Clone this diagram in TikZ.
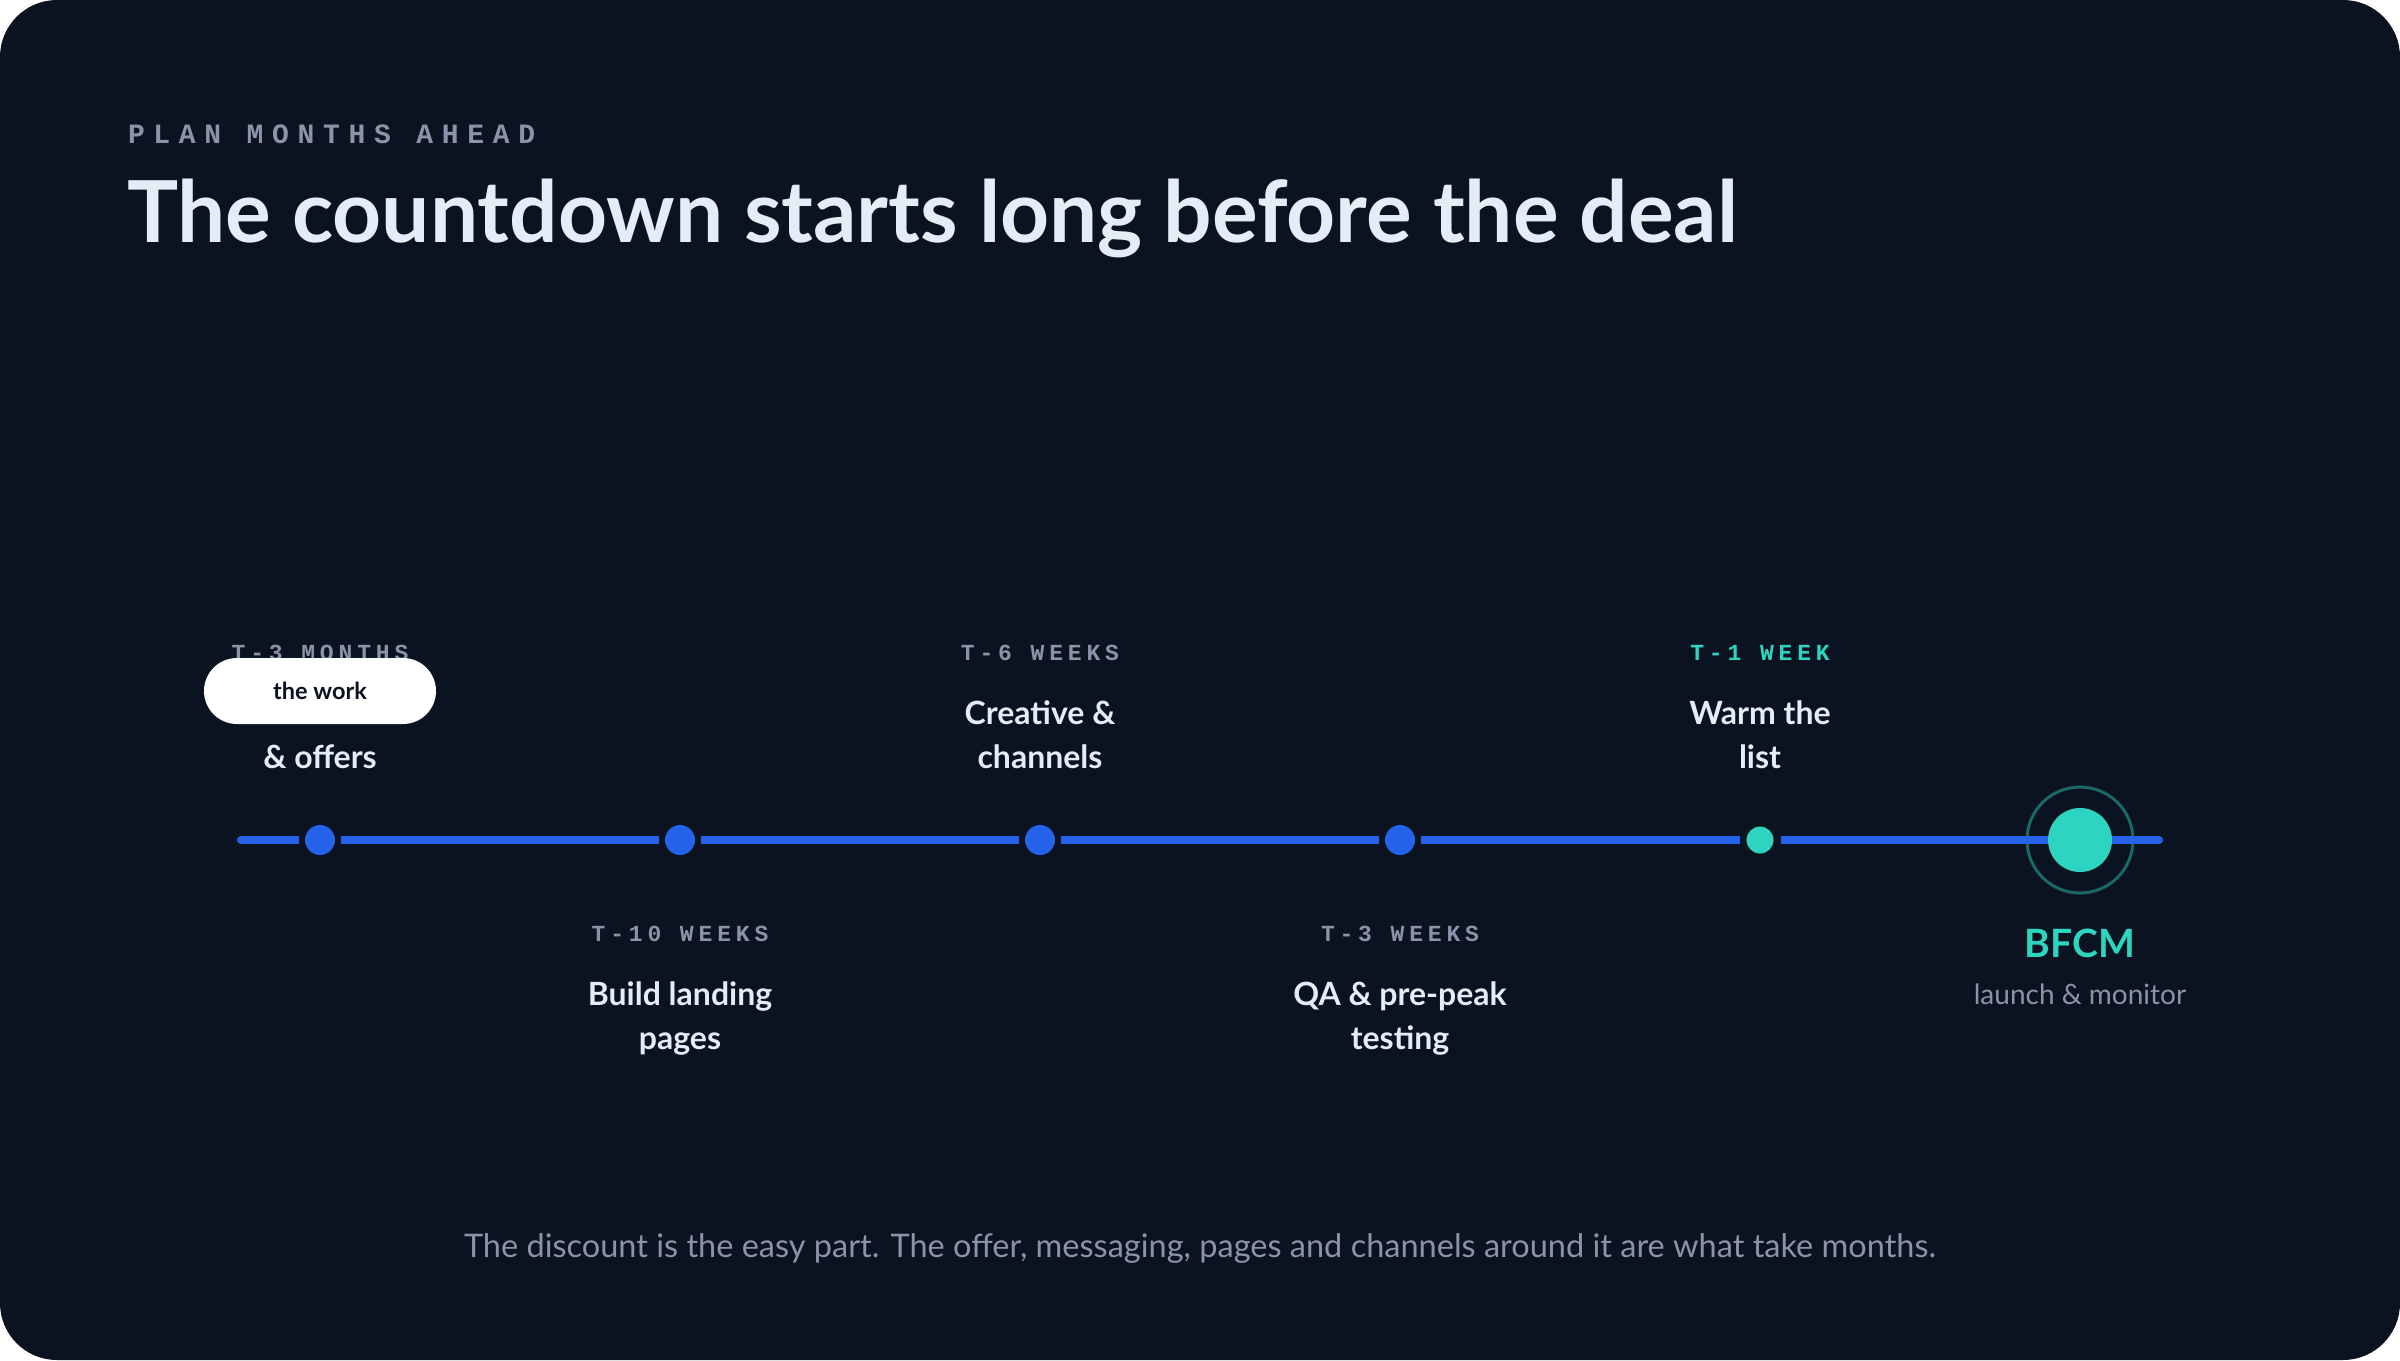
\documentclass[tikz,border=0pt]{standalone}
\usepackage{fontspec}
\usetikzlibrary{arrows.meta}
\setmainfont{Lato}
\newfontfamily\eyefont[LetterSpace=31]{Liberation Mono}
\newfontfamily\labfont[LetterSpace=21]{Liberation Mono}
\definecolor{bgc}{HTML}{0B1220}
\definecolor{tblue}{HTML}{2563EB}
\definecolor{tteal}{HTML}{2DD4BF}
\definecolor{greyl}{HTML}{8A94A8}
\definecolor{lighttxt}{HTML}{E6ECF5}
\tikzset{
  txt/.style={anchor=base, inner sep=0pt, outer sep=0pt},
  lbl/.style={txt, font=\labfont\bfseries\fontsize{23}{23}\selectfont, text=greyl},
  ttl/.style={txt, font=\bfseries\fontsize{32}{44}\selectfont, text=lighttxt, align=center},
  dotb/.style={circle, fill=tblue, inner sep=0pt, minimum size=30pt, outer sep=6pt},
  dott/.style={circle, fill=tteal, inner sep=0pt, minimum size=27pt, outer sep=7pt},
  tl/.style={draw=tblue, line width=8pt}
}
\begin{document}
\begin{tikzpicture}[x=1pt,y=-1pt]
\useasboundingbox (0,0) rectangle (2400,1360);
\fill[white] (0,0) rectangle (2400,1360);
\fill[bgc, rounded corners=57pt] (0,0) rectangle (2400,1360);

% heading
\node[txt, font=\eyefont\bfseries\fontsize{28}{28}\selectfont, text=greyl, anchor=base west] (eyebrow) at (128,143) {PLAN MONTHS AHEAD};
\node[txt, anchor=base west, font=\bfseries\fontsize{85.5}{86}\selectfont, text=lighttxt] (title) at (127,242) {The countdown starts long before the deal};

% timeline nodes
\coordinate (L) at (237,840);
\coordinate (R) at (2163,840);
\node[dotb] (d1) at (320,840) {};
\node[dotb] (d2) at (680,840) {};
\node[dotb] (d3) at (1040,840) {};
\node[dotb] (d4) at (1400,840) {};
\node[dott] (d5) at (1760,840) {};
\node[circle, fill=tteal, inner sep=0pt, minimum size=64pt] (d6) at (2080,840) {};
\node[circle, draw=tteal, draw opacity=0.45, line width=3pt, inner sep=0pt, minimum size=106pt] (ring) at (2080,840) {};

\draw[tl, {Round Cap[]}-] (L) -- (d1);
\draw[tl] (d1) -- (d2);
\draw[tl] (d2) -- (d3);
\draw[tl] (d3) -- (d4);
\draw[tl] (d4) -- (d5);
\draw[tl] (d5) -- (d6);
\draw[tl, -{Round Cap[]}] (d6) -- (R);

% labels above
\node[lbl] (l1) at (320,660) {T-3 MONTHS};
\node[ttl] (t1b) at (320,768) {\& offers};
\node[lbl] (l3) at (1040,660) {T-6 WEEKS};
\node[ttl] (t3) at (1040,768) {Creative \&\\channels};
\node[lbl, text=tteal] (l5) at (1760,660) {T-1 WEEK};
\node[ttl] (t5) at (1760,768) {Warm the\\list};

% labels below
\node[lbl] (l2) at (680,941) {T-10 WEEKS};
\node[ttl] (t2) at (680,1049) {Build landing\\pages};
\node[lbl] (l4) at (1400,941) {T-3 WEEKS};
\node[ttl] (t4) at (1400,1049) {QA \& pre-peak\\testing};

% BFCM
\node[txt, font=\bfseries\fontsize{39}{39}\selectfont, text=tteal] (bfcm) at (2080,957) {BFCM};
\node[txt, font=\fontsize{28}{28}\selectfont, text=greyl] (launch) at (2080,1004) {launch \& monitor};

% pill
\node[fill=white, rounded corners=33pt, minimum width=232pt, minimum height=66pt, inner sep=0pt, font=\bfseries\fontsize{23.5}{23.5}\selectfont, text=bgc] (pill) at (320,691) {the work};

% footer
\node[txt, font=\fontsize{32.5}{32.5}\selectfont, text=greyl] (footer) at (1200,1257) {The discount is the easy part. The offer, messaging, pages and channels around it are what take months.};
\end{tikzpicture}
\end{document}
